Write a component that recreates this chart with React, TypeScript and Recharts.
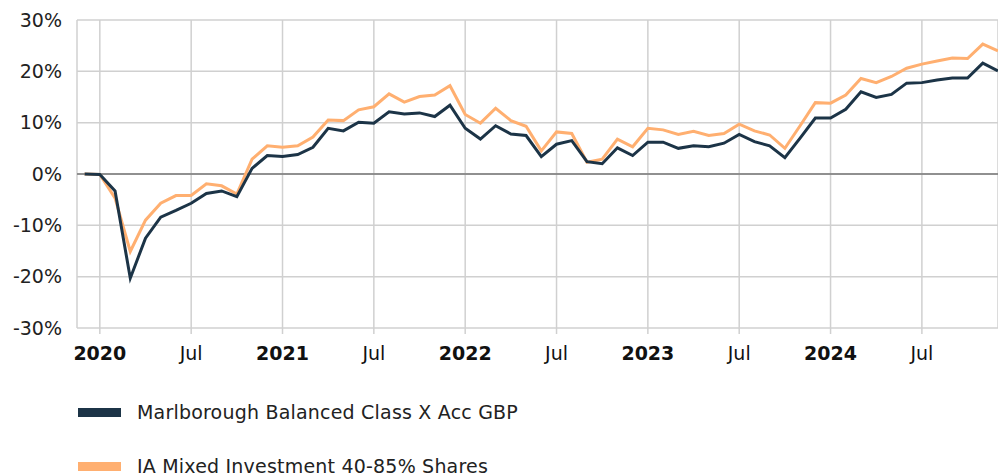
import React from 'react';
import { LineChart, Line, XAxis, YAxis, CartesianGrid, ReferenceLine, Legend } from 'recharts';

// Monthly points Dec 2019 .. Dec 2024 (index 0 = Dec 2019)
const months: string[] = [
  'Dec19',
  'Jan20','Feb20','Mar20','Apr20','May20','Jun20','Jul20','Aug20','Sep20','Oct20','Nov20','Dec20',
  'Jan21','Feb21','Mar21','Apr21','May21','Jun21','Jul21','Aug21','Sep21','Oct21','Nov21','Dec21',
  'Jan22','Feb22','Mar22','Apr22','May22','Jun22','Jul22','Aug22','Sep22','Oct22','Nov22','Dec22',
  'Jan23','Feb23','Mar23','Apr23','May23','Jun23','Jul23','Aug23','Sep23','Oct23','Nov23','Dec23',
  'Jan24','Feb24','Mar24','Apr24','May24','Jun24','Jul24','Aug24','Sep24','Oct24','Nov24','Dec24',
];

const fund: number[] = [
  0,
  -0.1, -3.3, -20.3, -12.5, -8.4, -7.1, -5.7, -3.8, -3.3, -4.4, 1.1, 3.6,
  3.4, 3.8, 5.2, 8.9, 8.4, 10.1, 9.9, 12.1, 11.7, 11.9, 11.2, 13.4,
  8.9, 6.8, 9.4, 7.8, 7.5, 3.4, 5.8, 6.5, 2.4, 2.0, 5.1, 3.6,
  6.2, 6.2, 5.0, 5.5, 5.3, 6.0, 7.7, 6.3, 5.5, 3.2, 7.0, 10.9,
  10.9, 12.6, 16.0, 14.9, 15.5, 17.7, 17.8, 18.3, 18.7, 18.7, 21.6, 20.1,
];

const sector: number[] = [
  0,
  -0.1, -4.7, -15.1, -9.0, -5.7, -4.2, -4.2, -1.9, -2.3, -3.9, 2.9, 5.5,
  5.2, 5.5, 7.2, 10.5, 10.4, 12.5, 13.1, 15.6, 14.0, 15.1, 15.4, 17.2,
  11.6, 9.9, 12.8, 10.4, 9.3, 4.5, 8.2, 7.9, 2.3, 2.9, 6.8, 5.3,
  8.9, 8.6, 7.7, 8.3, 7.5, 7.9, 9.7, 8.4, 7.6, 5.0, 9.4, 13.9,
  13.8, 15.4, 18.6, 17.8, 19.0, 20.6, 21.4, 22.0, 22.6, 22.5, 25.3, 24.0,
];

const tickIdx: number[] = [1, 7, 13, 19, 25, 31, 37, 43, 49, 55];
const tickLabels: string[] = ['2020', 'Jul', '2021', 'Jul', '2022', 'Jul', '2023', 'Jul', '2024', 'Jul'];
const yTicks: number[] = [-30, -20, -10, 0, 10, 20, 30];

const seriesNames = ['Marlborough Balanced Class X Acc GBP', 'IA Mixed Investment 40-85% Shares'];
const DARK = '#1c3447';
const ORANGE = '#ffaf70';
const FONT = '"DejaVu Sans", Verdana, sans-serif';

const data = months.map((m, i) => ({ i, m, fund: fund[i], sector: sector[i] }));

const XTick = (props: any) => {
  const { x, y, payload } = props;
  const idx = tickIdx.indexOf(payload.value);
  const label = tickLabels[idx] ?? '';
  const bold = label !== 'Jul';
  return (
    <text x={x} y={y} dy="0.71em" textAnchor="middle" fontFamily={FONT} fontSize={19}
      fontWeight={bold ? 'bold' : 'normal'} fill="#111">
      {label}
    </text>
  );
};

const LegendContent = () => (
  <div style={{ height: 118, position: 'relative', fontFamily: FONT, fontSize: 19, letterSpacing: 0.2, color: '#222' }}>
    {seriesNames.map((n, k) => (
      <div key={n} style={{ position: 'absolute', left: 78, top: 40 + k * 54, height: 28, display: 'flex', alignItems: 'center', whiteSpace: 'nowrap' }}>
        <span style={{ display: 'inline-block', width: 43, height: 9, background: k === 0 ? DARK : ORANGE, marginRight: 16 }} />
        <span>{n}</span>
      </div>
    ))}
  </div>
);

export default function App() {
  return (
    <div style={{ position: 'absolute', left: 0, top: 0, background: '#fff' }}>
      <LineChart width={998} height={476} data={data} margin={{ top: 20, right: 0, bottom: 0, left: 0 }}>
        <CartesianGrid stroke="#d0d0d0" strokeWidth={1.5} vertical={true} horizontal={true} />
        <XAxis dataKey="i" type="number" domain={[-0.5, 60]} ticks={tickIdx} interval={0}
          tick={<XTick />} tickSize={6} tickMargin={13} height={30}
          axisLine={false} tickLine={{ stroke: '#d0d0d0', strokeWidth: 1.5 }} allowDataOverflow />
        <YAxis type="number" domain={[-30, 30]} ticks={yTicks} width={77} interval={0}
          tickFormatter={(v: number) => `${v}%`} axisLine={false} tickLine={false}
          tickSize={6} tickMargin={9}
          tick={{ fontFamily: FONT, fontSize: 19, fill: '#222' }} />
        <ReferenceLine y={0} stroke="#777" strokeWidth={1.5} />
        <Line type="linear" dataKey="sector" stroke={ORANGE} strokeWidth={3} dot={false} isAnimationActive={false} />
        <Line type="linear" dataKey="fund" stroke={DARK} strokeWidth={3} dot={false} isAnimationActive={false} />
        <Legend verticalAlign="bottom" align="left" content={<LegendContent />} />
      </LineChart>
    </div>
  );
}
